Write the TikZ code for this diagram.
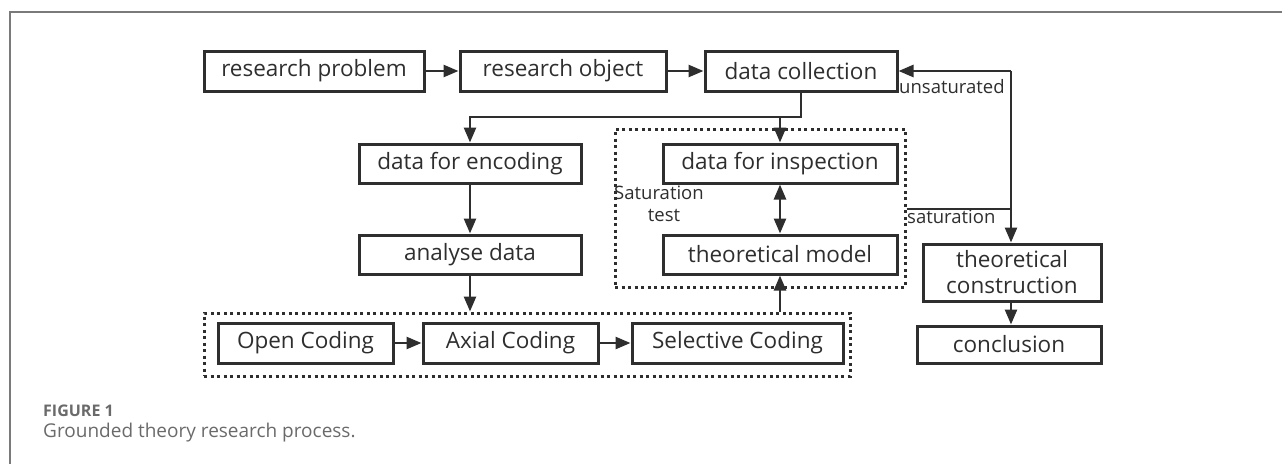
\documentclass[tikz,border=0pt]{standalone}
\usepackage{fontspec}
\setmainfont{Open Sans}
\usetikzlibrary{arrows.meta}
\definecolor{ink}{HTML}{2E2E2E}
\definecolor{capgray}{HTML}{6A6A6A}
\definecolor{framegray}{HTML}{7A7A7A}
\begin{document}
\begin{tikzpicture}[x=1pt,y=-1pt,
  box/.style={draw=ink,line width=3pt,text=ink,inner sep=0pt,align=center,font=\fontsize{22.5}{25}\selectfont},
  dotbox/.style={draw=ink,line width=3pt,dash pattern=on 3pt off 3.5pt,inner sep=0pt},
  arr/.style={draw=ink,line width=2.6pt,-{Triangle[length=15pt,width=12pt]}},
  darr/.style={draw=ink,line width=2.6pt,{Triangle[length=15pt,width=12pt]}-{Triangle[length=15pt,width=12pt]}},
  ln/.style={draw=ink,line width=2.6pt},
  lab/.style={text=ink,inner sep=0pt,font=\fontsize{18.5}{20}\selectfont}]
\useasboundingbox (0,0) rectangle (1282,464);
\draw[framegray,line width=1.5pt] (10,464) -- (10,12) -- (1282,12);
% boxes
\node[box,minimum width=220pt,minimum height=40pt] (rp) at (314,71) {research problem};
\node[box,minimum width=206pt,minimum height=40pt] (ro) at (563,71) {research object};
\node[box,minimum width=192pt,minimum height=40pt] (dc) at (801,71) {data collection};
\node[box,minimum width=222pt,minimum height=39pt] (de) at (470,163.5) {data for encoding};
\node[box,minimum width=234pt,minimum height=39pt] (di) at (780,163.5) {data for inspection};
\node[box,minimum width=222pt,minimum height=39pt] (ad) at (470,254.5) {analyse data};
\node[box,minimum width=234pt,minimum height=39pt] (tm) at (780,254.5) {theoretical model};
\node[box,minimum width=175pt,minimum height=40pt] (oc) at (305.5,343) {Open Coding};
\node[box,minimum width=175pt,minimum height=40pt] (ax) at (510.5,343) {Axial Coding};
\node[box,minimum width=211pt,minimum height=40pt] (sc) at (737.5,343) {Selective Coding};
\node[box,minimum width=178pt,minimum height=57pt,font=\fontsize{22.5}{26}\selectfont] (tc) at (1012,272.5) {theoretical\\construction};
\node[box,minimum width=184pt,minimum height=37pt] (cl) at (1009,344.5) {conclusion};
% dotted groups
\node[dotbox,minimum width=290pt,minimum height=158pt] (g1) at (760,208) {};
\node[dotbox,minimum width=646pt,minimum height=63pt] (g2) at (527,344.5) {};
% labels
\node[lab,anchor=north west] (ls) at (614,186) {Saturation};
\node[lab,anchor=north] (lt) at (664,209) {test};
\node[lab,anchor=north west] (lu) at (899,79) {unsaturated};
\node[lab,anchor=north west] (lsat) at (907,210) {saturation};
% connectors
\coordinate (j1) at (800,117);
\coordinate (r1) at (1011,71);
\coordinate (s1) at (1011,209);
\draw[arr] (rp.east) -- (ro.west);
\draw[arr] (ro.east) -- (dc.west);
\draw[arr] (dc.south) |- (j1) -| (de.north);
\draw[arr] (di.north |- j1) -- (di.north);
\draw[arr] (de.south) -- (ad.north);
\draw[arr] (ad.south) -- (ad.south |- g2.north);
\draw[arr] (tm.south |- g2.north) -- (tm.south);
\draw[darr] (di.south) -- (tm.north);
\draw[arr] (oc.east) -- (ax.west);
\draw[arr] (ax.east) -- (sc.west);
\draw[arr] (r1) -- (dc.east);
\draw[arr] (r1) -- (r1 |- tc.north);
\draw[ln] (g1.east |- s1) -- (s1);
\draw[arr] (tc.south -| r1) -- (cl.north -| r1);
% caption
\node[anchor=west,inner sep=0pt,text=capgray,font=\fontsize{16}{18}\selectfont\bfseries] (fig) at (43,411) {FIGURE 1};
\node[anchor=west,inner sep=0pt,text=capgray,font=\fontsize{19}{22}\selectfont] (cap) at (43,433) {Grounded theory research process.};
\end{tikzpicture}
\end{document}
